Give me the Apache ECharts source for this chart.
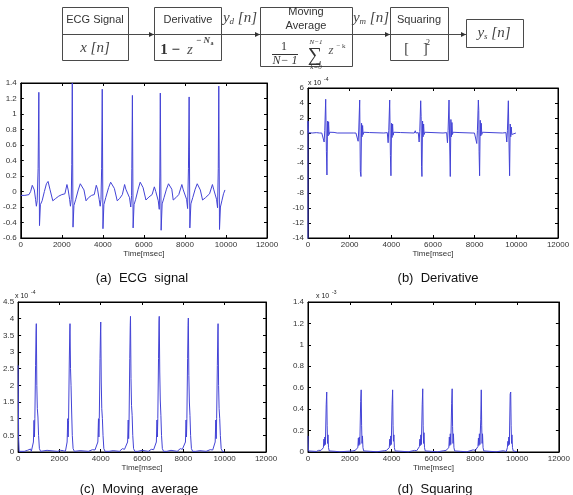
<!DOCTYPE html>
<html>
<head>
<meta charset="utf-8">
<script src="https://cdn.jsdelivr.net/npm/echarts@6/dist/echarts.min.js"></script>
<style>
html,body{margin:0;padding:0;background:#fff;}
#chart{width:573px;height:495px;}
</style>
</head>
<body>
<div id="chart"></div>
<script>
// time axis (msec) shared by all four panels
var timeMin = 0, timeMax = 12000, timeStep = 2000;

// y axis ranges of (a) (b) (c) (d)
var yMin = [-0.6, -14, 0, 0];
var yMax = [1.4, 6, 4.5, 1.4];
var yStep = [0.2, 2, 0.5, 0.2];
var yExponent = ['', '-4', '-4', '-3'];
var captions = ['(a)  ECG  signal', '(b)  Derivative', '(c)  Moving  average', '(d)  Squaring'];

// (a) raw ECG
var ecgSignal = [
  [0,-0.05],[200,-0.05],[400,-0.04],[480,0.0],[560,0.08],[608,0.10],[660,0.02],[720,-0.1],[760,-0.19],[800,-0.12],[845,0.3],[880,1.28],[912,-0.44],[955,-0.17],[1040,-0.12],[1150,0.0],[1250,0.1],[1330,0.13],[1420,0.03],[1560,-0.12],[1700,-0.09],[1850,-0.06],[2000,-0.04],[2150,-0.03],[2250,0.09],[2310,0.02],[2380,-0.1],[2420,-0.19],[2460,-0.1],[2485,0.35],[2510,1.40],[2545,-0.46],[2590,-0.18],[2680,-0.1],[2800,0.02],[2900,0.1],[2990,0.12],[3080,0.02],[3180,-0.12],[3300,-0.08],[3450,-0.05],[3580,-0.04],[3680,0.08],[3740,0.03],[3820,-0.1],[3870,-0.19],[3910,-0.1],[3940,0.3],[3970,1.32],[4005,-0.48],[4050,-0.17],[4140,-0.08],[4280,0.05],[4380,0.12],[4464,0.14],[4560,0.04],[4700,-0.12],[4820,-0.09],[4950,-0.04],[5060,0.09],[5120,0.03],[5300,-0.08],[5360,-0.2],[5400,-0.05],[5412,0.3],[5440,1.24],[5475,-0.47],[5520,-0.17],[5600,-0.1],[5720,0.03],[5820,0.12],[5870,0.14],[5960,0.05],[6100,-0.11],[6250,-0.07],[6400,-0.04],[6510,0.06],[6580,0.0],[6700,-0.12],[6750,-0.23],[6778,0.2],[6800,1.27],[6840,-0.5],[6890,-0.16],[6980,-0.08],[7100,0.03],[7200,0.1],[7270,0.12],[7360,0.03],[7430,-0.11],[7560,-0.08],[7700,-0.04],[7850,0.09],[7920,0.02],[8080,-0.1],[8130,-0.22],[8172,0.3],[8205,1.22],[8240,-0.47],[8290,-0.16],[8380,-0.08],[8500,0.03],[8600,0.1],[8650,0.11],[8750,0.02],[8860,-0.11],[9000,-0.08],[9200,-0.03],[9340,0.09],[9400,0.03],[9540,-0.1],[9590,-0.21],[9625,0.3],[9650,1.36],[9685,-0.49],[9730,-0.2],[9800,-0.12],[9880,-0.03],[9950,0.02]
];

// (b) derivative, x 10^-4
var derivative = [
  [0,-15],[0,1.6],[15,0.05],[200,0],[400,0.05],[560,0],[600,0.15],[630,-0.1],[660,0],
  [734,0.05],[774,-1.2],[804,0.3],[849,4.5],[884,-2.5],[909,-5.6],[939,1.6],[964,-0.4],[989,1.5],[1014,-0.2],[1044,0.1],[1094,0],[1250,0.08],[1300,-0.05],[1400,0],[2200,0],[2240,0.15],[2270,-0.05],[2300,0],
  [2366,0.05],[2406,-1.1],[2436,0.4],[2481,4.4],[2511,-5.1],[2541,-5.8],[2571,1.3],[2596,-0.5],[2621,1.0],[2646,-0.2],[2676,0.1],[2726,0],[2950,0.06],[3000,-0.04],[3640,0],[3670,0.15],[3700,-0.1],[3730,0],
  [3806,0.05],[3846,-1.3],[3876,0.3],[3921,4.4],[3956,-3.0],[3981,-5.7],[4011,1.3],[4036,-0.6],[4061,1.2],[4086,-0.3],[4116,0.1],[4166,0],[4450,0.06],[4500,-0.04],[5100,0],[5150,0.3],[5180,0],[5220,0.2],[5250,0],
  [5294,0.05],[5334,-1.2],[5364,0.2],[5409,4.3],[5430,2.2],[5450,-4.5],[5469,-5.8],[5499,1.6],[5524,-0.5],[5549,1.2],[5574,-0.2],[5604,0.1],[5654,0],[6480,0],[6510,0.15],[6540,-0.05],[6570,0],
  [6654,0.05],[6694,-1.3],[6724,0.3],[6769,4.4],[6804,-2.0],[6829,-5.8],[6859,1.8],[6884,-0.5],[6909,1.4],[6934,-0.2],[6964,0.1],[7014,0],[7250,0.06],[7300,-0.04],[7880,0],[7900,0.2],[7930,-0.1],[7960,0.15],[7990,0],
  [8062,0.05],[8102,-1.4],[8132,0.3],[8177,4.4],[8197,3.0],[8212,-2.5],[8237,-5.7],[8267,1.7],[8292,-0.4],[8317,1.3],[8342,-0.2],[8372,0.1],[8422,0],[9330,0],[9360,0.15],[9390,-0.05],[9420,0],
  [9502,0.05],[9542,-1.2],[9572,0.3],[9617,4.3],[9652,-2.0],[9677,-5.7],[9707,1.2],[9732,-0.5],[9757,0.8],[9782,-0.2],[9812,0.05],[9862,0],[9980,0]
];

// (c) moving average, x 10^-4
var movingAverage = [
  [0,2.6],[25,0.4],[50,0.02],[300,0.02],[450,0.05],[500,0.1],[540,0.06],[600,0.09],[640,0.02],
  [680,0.02],[740,0.3],[770,0.95],[790,0.45],[810,1.0],[845,2.6],[868,3.6],[880,3.85],[905,2.0],[930,1.3],[960,1.05],[990,0.5],[1030,0.1],[1090,0.02],[1400,0.05],[1480,0.02],
  [1900,0.02],[2050,0.05],[2130,0.08],[2190,0.04],[2250,0.06],[2290,0.02],
  [2312,0.02],[2372,0.3],[2402,1.0],[2422,0.45],[2442,0.95],[2477,2.7],[2500,3.6],[2512,3.85],[2537,2.5],[2562,2.0],[2592,1.2],[2622,0.5],[2662,0.1],[2722,0.02],
  [2800,0.02],[3000,0.04],[3400,0.02],[3600,0.07],[3660,0.04],[3720,0.06],[3770,0.02],
  [3800,0.02],[3860,0.3],[3890,1.0],[3910,0.45],[3930,1.0],[3965,2.8],[3988,3.6],[4000,3.9],[4025,2.1],[4050,1.3],[4080,1.0],[4110,0.5],[4150,0.1],[4210,0.02],
  [4400,0.02],[4600,0.04],[4900,0.02],[5050,0.1],[5100,0.05],[5150,0.08],[5210,0.02],
  [5240,0.02],[5300,0.3],[5330,0.96],[5350,0.4],[5370,0.9],[5405,2.8],[5428,3.8],[5440,4.07],[5465,2.2],[5490,1.4],[5520,1.1],[5550,0.5],[5590,0.1],[5650,0.02],
  [5800,0.02],[6000,0.05],[6300,0.02],[6450,0.08],[6510,0.04],[6560,0.07],[6610,0.02],
  [6632,0.02],[6692,0.3],[6722,0.96],[6742,0.45],[6762,1.0],[6797,2.8],[6820,3.9],[6832,4.07],[6857,2.4],[6882,1.56],[6912,1.1],[6942,0.5],[6982,0.1],[7042,0.02],
  [7200,0.02],[7400,0.05],[7700,0.02],[7850,0.1],[7900,0.05],[7950,0.08],[8010,0.02],
  [8040,0.02],[8100,0.3],[8130,0.96],[8150,0.45],[8170,1.0],[8205,2.8],[8228,3.8],[8240,4.02],[8265,2.3],[8290,1.5],[8320,1.1],[8350,0.5],[8390,0.1],[8450,0.02],
  [8600,0.02],[8800,0.04],[9100,0.02],[9300,0.07],[9370,0.04],[9420,0.06],[9460,0.02],
  [9480,0.02],[9540,0.3],[9570,0.96],[9590,0.4],[9610,1.0],[9645,2.6],[9668,3.6],[9680,3.85],[9705,2.0],[9730,1.3],[9760,1.0],[9790,0.5],[9830,0.1],[9890,0.02],[9990,0.0]
];

// (d) squaring, x 10^-3
var squaring = [
  [0,0.15],[20,0.01],[400,0.005],[500,0.015],[560,0.01],[620,0.015],[680,0.003],
  [696,0.003],[736,0.04],[761,0.12],[781,0.06],[806,0.14],[831,0.07],[871,0.44],[896,0.56],[916,0.25],[936,0.08],[956,0.16],[981,0.04],[1016,0.01],[1056,0.002],
  [1300,0.006],[1500,0.002],[2150,0.01],[2250,0.015],[2320,0.005],
  [2344,0.003],[2384,0.04],[2409,0.13],[2429,0.06],[2454,0.14],[2479,0.07],[2519,0.47],[2544,0.58],[2564,0.25],[2584,0.08],[2604,0.15],[2629,0.04],[2664,0.01],[2704,0.002],
  [3000,0.006],[3300,0.002],[3650,0.012],[3750,0.015],[3830,0.004],
  [3848,0.003],[3888,0.04],[3913,0.12],[3933,0.06],[3958,0.15],[3983,0.07],[4023,0.44],[4048,0.58],[4068,0.25],[4088,0.1],[4108,0.16],[4133,0.04],[4168,0.01],[4208,0.002],
  [4500,0.006],[4800,0.002],[5100,0.015],[5200,0.012],[5270,0.004],
  [5288,0.003],[5328,0.05],[5353,0.12],[5373,0.06],[5398,0.16],[5423,0.07],[5463,0.44],[5488,0.59],[5508,0.25],[5528,0.08],[5548,0.18],[5573,0.04],[5608,0.01],[5648,0.002],
  [5900,0.006],[6200,0.002],[6500,0.012],[6600,0.015],[6680,0.004],
  [6696,0.003],[6736,0.04],[6761,0.14],[6781,0.06],[6806,0.17],[6831,0.07],[6871,0.45],[6896,0.59],[6916,0.24],[6936,0.08],[6956,0.17],[6981,0.04],[7016,0.01],[7056,0.002],
  [7300,0.006],[7600,0.002],[7900,0.02],[8000,0.015],[8070,0.004],
  [8088,0.003],[8128,0.05],[8153,0.13],[8173,0.06],[8198,0.17],[8223,0.07],[8263,0.3],[8288,0.58],[8308,0.25],[8328,0.08],[8348,0.17],[8373,0.04],[8408,0.01],[8448,0.002],
  [8700,0.006],[9000,0.002],[9350,0.012],[9430,0.015],[9480,0.004],
  [9496,0.003],[9536,0.04],[9561,0.1],[9581,0.06],[9606,0.14],[9631,0.07],[9671,0.54],[9696,0.56],[9716,0.25],[9736,0.08],[9756,0.16],[9781,0.04],[9816,0.01],[9856,0.002],[9990,0.003]
];

var seriesData = [ecgSignal, derivative, movingAverage, squaring];

// panel boxes in pixels
var panels = [
  {left: 17, top: 83, width: 250, height: 155},
  {left: 308, top: 88, width: 250, height: 150},
  {left: 16, top: 302, width: 250, height: 150},
  {left: 308, top: 302, width: 251, height: 150}
];
var captionPos = [[142, 278], [438, 278], [139, 489], [435, 489]];
var lineColor = '#4343d6';
var labelFont = 'Liberation Sans';

var grids = [], xAxes = [], yAxes = [], series = [];
panels.forEach(function (p, i) {
  grids.push({left: p.left, top: p.top, width: p.width, height: p.height,
    show: true, borderColor: '#000', borderWidth: 1, containLabel: false});
});
['bottom', 'top'].forEach(function (pos) {
  panels.forEach(function (p, i) {
    xAxes.push({
      type: 'value', gridIndex: i, position: pos,
      min: timeMin, max: timeMax, interval: timeStep,
      axisLine: {onZero: false, lineStyle: {color: '#000', width: 1}},
      axisTick: {inside: true, length: 3, lineStyle: {color: '#000'}},
      axisLabel: {show: pos === 'bottom', margin: 3, fontSize: 8, color: '#333', fontFamily: labelFont,
        formatter: function (v) { return String(v); }},
      splitLine: {show: false},
      name: pos === 'bottom' ? 'Time[msec]' : '',
      nameLocation: 'middle', nameGap: i < 2 ? 10 : 9,
      nameTextStyle: {fontSize: 8, color: '#333', fontFamily: labelFont, verticalAlign: 'top'}
    });
  });
});
['left', 'right'].forEach(function (pos) {
  panels.forEach(function (p, i) {
    yAxes.push({
      type: 'value', gridIndex: i, position: pos,
      min: yMin[i], max: yMax[i], interval: yStep[i],
      axisLine: {onZero: false, lineStyle: {color: '#000', width: 1}},
      axisTick: {inside: true, length: 3, lineStyle: {color: '#000'}},
      axisLabel: {show: pos === 'left', margin: 4, fontSize: 8, color: '#333', fontFamily: labelFont},
      splitLine: {show: false}
    });
  });
});
seriesData.forEach(function (d, i) {
  series.push({
    type: 'line', xAxisIndex: i, yAxisIndex: i, data: d,
    showSymbol: false, symbol: 'none', clip: true, silent: true,
    lineStyle: {color: lineColor, width: 1}
  });
});

// block diagram + captions
var stroke = {stroke: '#4a4a4a', lineWidth: 1, fill: null};
var sans = '11px "Liberation Sans"';
var graphic = [];
function box(x, y, w, h) { graphic.push({type: 'rect', shape: {x: x + 0.5, y: y + 0.5, width: w, height: h}, style: stroke}); }
function txt(x, y, s, font, align, color) {
  graphic.push({type: 'text', x: x, y: y, style: {text: s, font: font, fill: color || '#333', align: align || 'center', verticalAlign: 'middle'}});
}
function rich(x, y, s, richStyles) {
  graphic.push({type: 'text', x: x, y: y, style: {text: s, rich: richStyles, fill: '#333', align: 'center', verticalAlign: 'middle'}});
}
function arrow(x) {
  graphic.push({type: 'polygon', shape: {points: [[x, 34.5], [x - 5, 32], [x - 5, 37]]}, style: {fill: '#333'}});
}
box(62, 7, 66, 53);
box(154, 7, 67, 53);
box(260, 7, 92, 59);
box(390, 7, 58, 53);
box(466, 19, 57, 28);
graphic.push({type: 'line', shape: {x1: 62, y1: 34.5, x2: 466, y2: 34.5}, style: {stroke: '#4a4a4a', lineWidth: 1}});
[154, 260, 390, 466].forEach(arrow);

var mathRich = {
  a: {font: 'italic 15px "Liberation Serif"', fill: '#444'},
  b: {font: 'italic 9px "Liberation Serif"', fill: '#444', padding: [8, 0, 0, 0]}
};
txt(95, 20, 'ECG Signal', sans);
txt(95, 48, 'x [n]', 'italic 15px "Liberation Serif"', 'center', '#444');
txt(188, 20, 'Derivative', sans);
txt(172, 50, '1 − ', 'bold 15px "Liberation Serif"', 'center', '#333');
txt(190, 50, 'z', 'italic 15px "Liberation Serif"', 'center', '#555');
txt(203, 41, '− N', 'italic bold 9px "Liberation Serif"', 'center', '#444');
txt(212, 43, 'a', 'bold 6px "Liberation Serif"', 'center', '#444');
rich(240, 18, '{a|y}{b|d}{a| [n]}', mathRich);
txt(306, 12, 'Moving', sans);
txt(306, 26, 'Average', sans);
txt(284, 47, '1', '12px "Liberation Serif"', 'center', '#333');
graphic.push({type: 'line', shape: {x1: 272, y1: 54.5, x2: 298, y2: 54.5}, style: {stroke: '#333', lineWidth: 1}});
txt(285, 61, 'N− 1', 'italic 12px "Liberation Serif"', 'center', '#333');
txt(315, 56, '∑', '20px "Liberation Serif"', 'center', '#333');
txt(316, 42, 'N−1', 'italic 7px "Liberation Serif"', 'center', '#333');
txt(316, 67, 'k=0', 'italic 7px "Liberation Serif"', 'center', '#333');
txt(331, 51, 'z', 'italic 13px "Liberation Serif"', 'center', '#555');
txt(341, 46, '− k', '7px "Liberation Serif"', 'center', '#444');
rich(371, 18, '{a|y}{b|m}{a| [n]}', mathRich);
txt(419, 20, 'Squaring', sans);
txt(416, 49, '[    ]', '14px "Liberation Serif"', 'center', '#333');
txt(428, 43, '2', '8px "Liberation Serif"', 'center', '#333');
rich(494, 33, '{a|y}{b|s}{a| [n]}', mathRich);

// exponent labels and captions
var expPos = [null, [308, 83], [15, 296], [316, 296]];
expPos.forEach(function (pos, i) {
  if (!pos) return;
  txt(pos[0], pos[1], 'x 10', '7px "Liberation Sans"', 'left', '#222');
  txt(pos[0] + 16, pos[1] - 3, yExponent[i], '5px "Liberation Sans"', 'left', '#222');
});
captions.forEach(function (c, i) {
  txt(captionPos[i][0], captionPos[i][1], c, '13px "Liberation Sans"', 'center', '#111');
});

var chart = echarts.init(document.getElementById('chart'), null, {renderer: 'canvas'});
chart.setOption({
  animation: false,
  grid: grids,
  xAxis: xAxes,
  yAxis: yAxes,
  series: series,
  graphic: graphic
});
</script>
</body>
</html>
